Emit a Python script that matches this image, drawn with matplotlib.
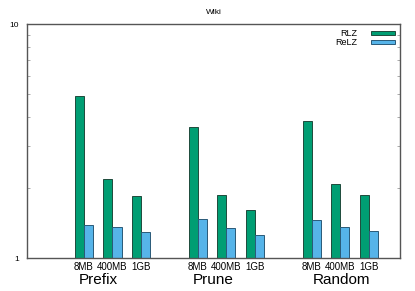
import matplotlib
matplotlib.use('Agg')
import matplotlib.pyplot as plt
import numpy as np

plt.rcParams['font.family'] = ['Liberation Sans', 'DejaVu Sans']

groups = ['Prefix', 'Prune', 'Random']
sizes = ['8MB', '400MB', '1GB']
rlz = [4.94, 2.18, 1.84, 3.63, 1.85, 1.60, 3.85, 2.07, 1.85]
relz = [1.39, 1.36, 1.29, 1.47, 1.35, 1.26, 1.45, 1.36, 1.30]

# cluster positions: 3 per group, one blank slot between groups
pos = np.array([0, 1, 2, 4, 5, 6, 8, 9, 10])
w = 0.32

fig = plt.figure(figsize=(4.15, 2.91), dpi=100)
ax = fig.add_axes([0.065, 0.1134, 0.899, 0.8041])

ax.bar(pos - w / 2, [v - 1 for v in rlz], width=w, bottom=1, color='#009E73',
       edgecolor='#1f4a3c', linewidth=0.7, label='RLZ')
ax.bar(pos + w / 2, [v - 1 for v in relz], width=w, bottom=1, color='#56B4E9',
       edgecolor='#2a5a78', linewidth=0.7, label='ReLZ')

ax.set_yscale('log')
ax.set_ylim(1, 10)
ax.set_xlim(-2, 11.1)
ax.set_yticks([1, 10])
ax.set_yticklabels(['1', '10'], fontsize=6)
ax.yaxis.set_minor_locator(matplotlib.ticker.LogLocator(subs=np.arange(2, 10)))
ax.yaxis.set_minor_formatter(matplotlib.ticker.NullFormatter())
ax.tick_params(axis='y', which='both', direction='in', right=True,
               length=2, width=0.5, color='#888888', pad=6)
ax.tick_params(axis='y', which='major', length=0)

ax.set_xticks(pos)
ax.set_xticklabels(sizes * 3, fontsize=7)
ax.tick_params(axis='x', length=0, pad=3)

for s in ax.spines.values():
    s.set_color('#555555')
    s.set_linewidth(1.0)

for g, x in zip(groups, [0.5, 4.55, 9.05]):
    ax.text(x, -0.095, g, transform=ax.get_xaxis_transform(),
            ha='center', va='center', fontsize=11)

ax.set_title('Wiki', fontsize=6, pad=7)

ax.legend(loc='upper right', frameon=False, fontsize=6.5, handlelength=2.6,
          handleheight=0.35, markerfirst=False, labelspacing=0.0,
          borderaxespad=0.3, handletextpad=1.5, borderpad=0.3)

plt.savefig('out.png', dpi=100)
